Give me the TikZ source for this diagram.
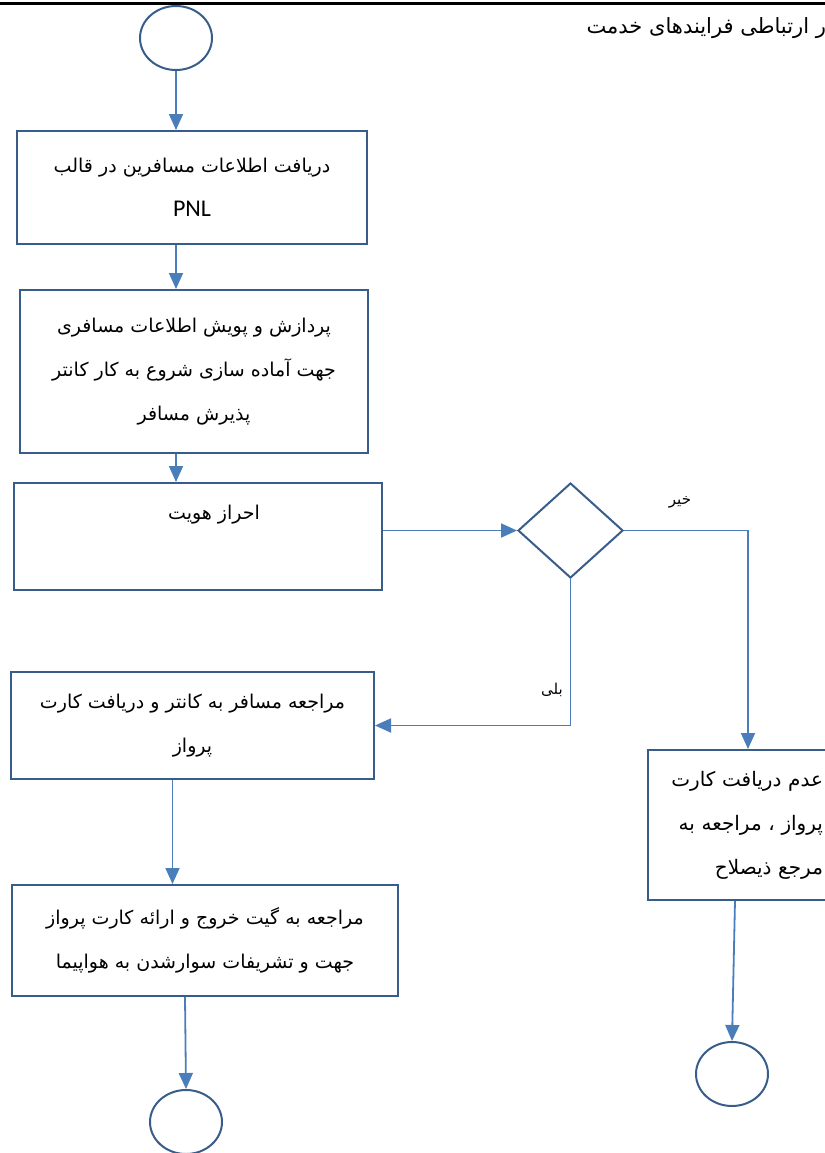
\documentclass[tikz,border=0pt]{standalone}
\usepackage{fontspec}
\setmainfont{Carlito}
\newfontfamily\farsi[Script=Arabic]{DejaVu Sans}
\TeXXeTstate=1
\usetikzlibrary{shapes.geometric,arrows.meta}
\definecolor{boxblue}{RGB}{56,93,138}
\definecolor{arrowblue}{RGB}{74,126,187}
\newcommand{\fa}[1]{{\farsi\beginR #1\endR}}
\begin{document}
\begin{tikzpicture}[x=0.5pt,y=-0.5pt,
    flow/.style={draw=arrowblue,line width=0.9pt,-{Triangle[width=7pt,length=8pt]}}]

      \useasboundingbox (0,0) rectangle (825,1153);
      \clip (0,0) rectangle (825,1153);
      \draw[line width=1.5pt] (0,3) -- (825,3);
      \node[anchor=east,font=\fontsize{10.5}{12}\selectfont] (title) at (833,28) {\fa{ر ارتباطی فرایندهای خدمت}};

      \begin{scope}[every node/.style={ellipse,draw=boxblue,line width=1pt,minimum width=36pt,minimum height=32pt,inner sep=0pt}]
        \node (start) at (176,38)   {};
        \node (endL)  at (186,1122) {};
        \node (endR)  at (732,1074) {};
      \end{scope}

      \begin{scope}[every node/.style={rectangle,draw=boxblue,line width=1pt,align=center,font=\fontsize{9.5}{22}\selectfont}]
        \node[minimum width=175pt,minimum height=56.5pt] (recv) at (192,187.5)
          {\fa{دریافت اطلاعات مسافرین در قالب}\\{\fontsize{12}{22}\selectfont PNL}};
        \node[minimum width=174pt,minimum height=81.5pt] (proc) at (194,371.5)
          {\fa{پردازش و پویش اطلاعات مسافری}\\\fa{جهت آماده سازی شروع به کار کانتر}\\\fa{پذیرش مسافر}};
        \node[minimum width=184pt,minimum height=53.5pt] (auth) at (198,536.5) {};
        \node[minimum width=181.5pt,minimum height=53.5pt] (counter) at (192.5,725.5)
          {\fa{مراجعه مسافر به کانتر و دریافت کارت}\\\fa{پرواز}};
        \node[minimum width=193pt,minimum height=55.5pt] (gate) at (205,940.5)
          {\fa{مراجعه به گیت خروج و ارائه کارت پرواز}\\\fa{جهت و تشریفات  سوارشدن به هواپیما}};
        \node[text width=81pt,align=right,inner xsep=6.5pt,minimum height=75pt,font=\fontsize{10}{22}\selectfont] (refer) at (742,825)
          {\fa{عدم دریافت کارت}\\\fa{پرواز ، مراجعه به}\\\fa{مرجع ذیصلاح}};
        \node[diamond,minimum width=52.5pt,minimum height=47.5pt,inner sep=0pt] (check) at (570.5,530.5) {};
      \end{scope}

      \node[font=\fontsize{9.5}{12}\selectfont] (authtxt) at (214,515) {\fa{احراز هویت}};
      \node[font=\fontsize{7.5}{9}\selectfont] (no)  at (680,502) {\fa{خیر}};
      \node[font=\fontsize{7.5}{9}\selectfont] (yes) at (552,690) {\fa{بلی}};

      \begin{scope}[every edge/.style={flow}]
        \path (start) edge (start |- recv.north);
        \path (recv.south -| start) edge (proc.north -| start);
        \path (proc.south -| start) edge (auth.north -| start);
        \path (auth.east |- check.west) edge (check.west);
        \path ([xshift=-10pt]counter.south) edge ([xshift=-10pt]counter.south |- gate.north);
        \path ([xshift=-10pt]gate.south) edge (endL.north);
        \path ([xshift=-3.5pt]refer.south) edge (endR.north);
      \end{scope}
      \draw[flow] (check.east) -| ([xshift=3pt]refer.north);
      \draw[flow] (check.south) |- (counter.east);

    \end{tikzpicture}
\end{document}
